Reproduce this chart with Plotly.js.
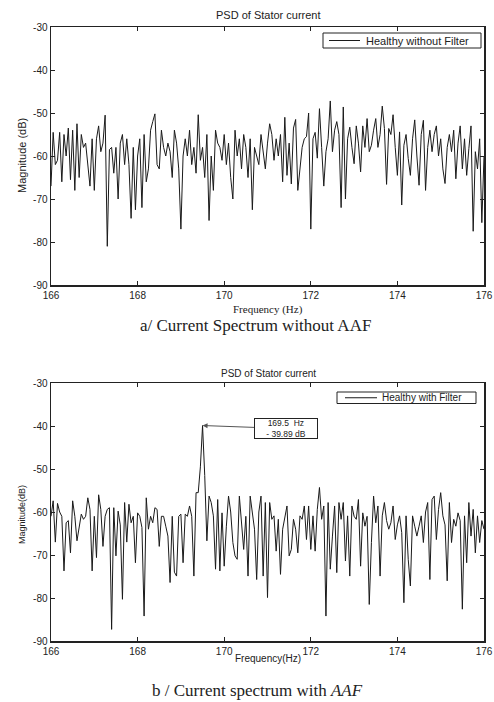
<!DOCTYPE html>
<html>
<head>
<meta charset="utf-8">
<script src="https://cdn.plot.ly/plotly-3.0.1.min.js"></script>
<style>html,body{margin:0;padding:0;background:#fff;}#chart{width:494px;height:702px;}</style>
</head>
<body>
<div id="chart"></div>
<script>
// Frequency axis: 166 Hz to 176 Hz, 0.05 Hz resolution (201 bins)
const freqStart = 166;
const freqStep = 0.05;

// Panel a: healthy, without anti-aliasing filter (dB)
const magWithout = [
-67,-54.5,-62,-61,-54.5,-66,-55,-60,-53.5,-65.5,
-54,-68,-52.5,-65,-55,-58,-57,-62,-67,-56,
-68,-56,-53,-59,-57,-50.5,-81,-58.5,-58,-64,
-58,-70,-57,-55,-62,-56,-62,-74.5,-58,-72.5,
-60,-56,-72,-55,-66,-63,-54,-52,-50.2,-62,
-63,-54,-58,-60,-57,-59,-65,-54,-57,-63,
-77,-60,-56,-60,-54,-62,-58,-64,-50.4,-61,
-58,-65,-55,-75,-60,-68,-54,-57,-58,-61,
-55,-62,-57,-65,-70,-54,-60,-56,-63,-55,
-58,-65,-56,-72.5,-58,-60,-62,-55,-59,-63,
-57,-52.5,-55,-61,-56,-60,-55,-66,-51,-64.5,
-57,-66.5,-53.5,-51.5,-68,-63,-58,-56,-55.5,-50,
-77,-56,-54.5,-60.5,-49,-58,-67,-59,-56,-47.2,
-59,-54,-52,-55,-72,-48.6,-70,-56,-53.3,-58,
-61.8,-53,-57,-63.7,-53,-58,-51.3,-59,-57.5,-54,
-51.3,-58,-55,-48.4,-53.6,-66.6,-53.6,-55,-50.4,-58,
-64.5,-54.4,-71.4,-57.5,-55,-60.6,-64.5,-56,-51.6,-60,
-66.8,-55,-51.7,-68,-58,-54,-59,-55,-53,-60,
-56,-63,-66.4,-58,-55,-59,-54,-65.3,-57,-53,
-63,-56,-64.5,-58.3,-53,-77.5,-59,-63,-56,-75.5,
-60
];

// Panel b: healthy, with anti-aliasing filter (dB)
const magWith = [
-61,-57.4,-67,-58,-60,-61,-73.7,-62.5,-62,-69.5,
-57.4,-61,-66.7,-63.3,-60.5,-61.7,-61,-56.7,-59.4,-73.7,
-61,-70.6,-56,-59.4,-68,-61,-59.4,-59,-87.3,-59,
-70.2,-59.8,-63,-80.3,-57.8,-67,-58.2,-62.5,-61,-71.8,
-60.2,-61,-63.6,-84.2,-56.7,-64,-61,-62.5,-59,-59.4,
-68,-61,-61,-63.3,-65.6,-76.4,-61,-74,-74.9,-61,
-60.5,-71.8,-60.5,-61,-58.6,-61,-74.9,-55.5,-55.5,-49.5,
-39.89,-51.5,-66.7,-56.3,-57.8,-60.9,-73.3,-57.1,-73.7,-60.2,
-72.6,-63.3,-56.3,-60,-67.1,-70.2,-71,-56.3,-63.3,-68.7,
-61,-74.9,-56.3,-60.9,-64,-75.7,-60,-56.3,-74.9,-57.8,
-79.9,-57.8,-61.7,-60.9,-69.1,-61.7,-74.5,-64,-60.9,-58.6,
-70.2,-68.7,-61.7,-64,-69.5,-60.9,-61.7,-58.6,-66.4,-58.6,
-68.7,-60.9,-69.1,-59.4,-54.3,-61.7,-58.6,-84.2,-57.8,-73.3,
-65.6,-58.6,-74.1,-57.8,-61.7,-57.8,-71.4,-60.9,-74.9,-58.6,
-61,-61.7,-57.1,-72.6,-60.2,-63.3,-61,-81.5,-67.1,-56.3,
-62.5,-58.6,-74.9,-60.9,-57.8,-62,-64,-62.5,-58.6,-66.4,
-63,-60.9,-64.8,-81.1,-60.9,-71,-77.2,-60.9,-63.3,-65.6,
-63.3,-60.9,-67.1,-60,-57.8,-75.7,-57.1,-56.3,-66.4,-59.4,
-55.5,-60.9,-63,-76,-57.8,-67.1,-61.7,-63.3,-60.2,-62,
-82.6,-60.9,-71.8,-57.8,-65.6,-59.4,-69.5,-60.9,-67.1,-62,
-64
];

const xTicks = [166, 168, 170, 172, 174, 176];
const xTickLabels = ['166', '168', '170', '172', '174', '176'];
const yTicks = [-90, -80, -70, -60, -50, -40, -30];
const yTickLabels = ['-90', '-80', '-70', '-60', '-50', '-40', '-30'];
const seriesNames = ['Healthy without Filter', 'Healthy with Filter'];
const peakFreq = 169.5;
const peakMag = -39.89;

const freqs = magWithout.map((_, i) => +(freqStart + i * freqStep).toFixed(2));

const W = 494, H = 702;
const px = v => v / W;
const py = v => 1 - v / H;

const lineColor = '#1a1a1a';
const ink = '#222';
const sans = 'Liberation Sans, Arial';
const serif = 'Liberation Serif, Times New Roman';

const axisCommon = {
  showline: true, linecolor: ink, linewidth: 1.5, mirror: 'ticks',
  ticks: 'inside', ticklen: 4, tickwidth: 1, tickcolor: ink,
  showgrid: false, zeroline: false,
  tickfont: {family: sans, size: 10, color: ink}
};
const xAxisBase = Object.assign({}, axisCommon, {range: [166, 176], tickmode: 'array', tickvals: xTicks, ticktext: xTickLabels});
const yAxisBase = Object.assign({}, axisCommon, {range: [-90, -30], tickmode: 'array', tickvals: yTicks, ticktext: yTickLabels});

const traces = [
  {x: freqs, y: magWithout, type: 'scatter', mode: 'lines', name: seriesNames[0],
   line: {color: lineColor, width: 1}, xaxis: 'x', yaxis: 'y', showlegend: false},
  {x: freqs, y: magWith, type: 'scatter', mode: 'lines', name: seriesNames[1],
   line: {color: lineColor, width: 1}, xaxis: 'x2', yaxis: 'y2', showlegend: false}
];

function txt(x, y, text, font, extra) {
  return Object.assign({xref: 'paper', yref: 'paper', x: px(x), y: py(y), text: text,
    showarrow: false, xanchor: 'center', yanchor: 'middle', font: font}, extra || {});
}

// legend frames (box with a line sample; label added as annotation)
function legendShapes(x0, x1, y0, y1, lx0, lx1) {
  const ym = (y0 + y1) / 2;
  return [
    {type: 'rect', xref: 'paper', yref: 'paper', x0: px(x0), x1: px(x1), y0: py(y1), y1: py(y0),
     line: {color: ink, width: 1}, fillcolor: '#fff', layer: 'above'},
    {type: 'line', xref: 'paper', yref: 'paper', x0: px(lx0), x1: px(lx1), y0: py(ym), y1: py(ym),
     line: {color: lineColor, width: 1}, layer: 'above'}
  ];
}

const layout = {
  width: W, height: H,
  margin: {l: 0, r: 0, t: 0, b: 0},
  paper_bgcolor: '#fff', plot_bgcolor: '#fff',
  showlegend: false,
  xaxis: Object.assign({}, xAxisBase, {domain: [px(51), px(484)], anchor: 'y'}),
  yaxis: Object.assign({}, yAxisBase, {domain: [py(285), py(27)], anchor: 'x'}),
  xaxis2: Object.assign({}, xAxisBase, {domain: [px(51), px(484)], anchor: 'y2'}),
  yaxis2: Object.assign({}, yAxisBase, {domain: [py(641), py(383)], anchor: 'x2'}),
  shapes: [].concat(
    legendShapes(323, 481, 33, 48, 329, 360),
    legendShapes(337, 476, 392, 403.5, 345, 377)
  ),
  annotations: [
    txt(268, 15, 'PSD of Stator current', {family: sans, size: 11, color: ink}),
    txt(268, 309, 'Frequency (Hz)', {family: serif, size: 11, color: ink}),
    txt(22, 156, 'Magnitude (dB)', {family: sans, size: 11, color: ink}, {textangle: -90}),
    txt(255, 325, 'a/ Current Spectrum without AAF', {family: serif, size: 17, color: ink}),
    txt(268, 374, 'PSD of Stator current', {family: sans, size: 10, color: ink}),
    txt(268, 658, 'Frequency(Hz)', {family: sans, size: 10, color: ink}),
    txt(22, 515, 'Magnitude(dB)', {family: sans, size: 9, color: ink}, {textangle: -90}),
    txt(257, 690, 'b / Current spectrum with <i>AAF</i>', {family: serif, size: 17, color: ink}),
    txt(364, 40.5, seriesNames[0], {family: sans, size: 11, color: ink}, {xanchor: 'left'}),
    txt(380, 397.8, seriesNames[1], {family: sans, size: 10, color: ink}, {xanchor: 'left'}),
    {xref: 'x2', yref: 'y2', x: peakFreq, y: peakMag,
     text: peakFreq + '  Hz<br>- ' + (-peakMag).toFixed(2) + ' dB',
     showarrow: true, arrowhead: 2, arrowsize: 1, arrowwidth: 1, arrowcolor: '#555',
     ax: 83, ay: 3, width: 60, height: 17, bordercolor: ink, borderwidth: 1, borderpad: 1, bgcolor: '#fff',
     font: {family: sans, size: 8.5, color: ink}, align: 'center'}
  ]
};

Plotly.newPlot('chart', traces, layout, {staticPlot: true, displayModeBar: false});
</script>
</body>
</html>
